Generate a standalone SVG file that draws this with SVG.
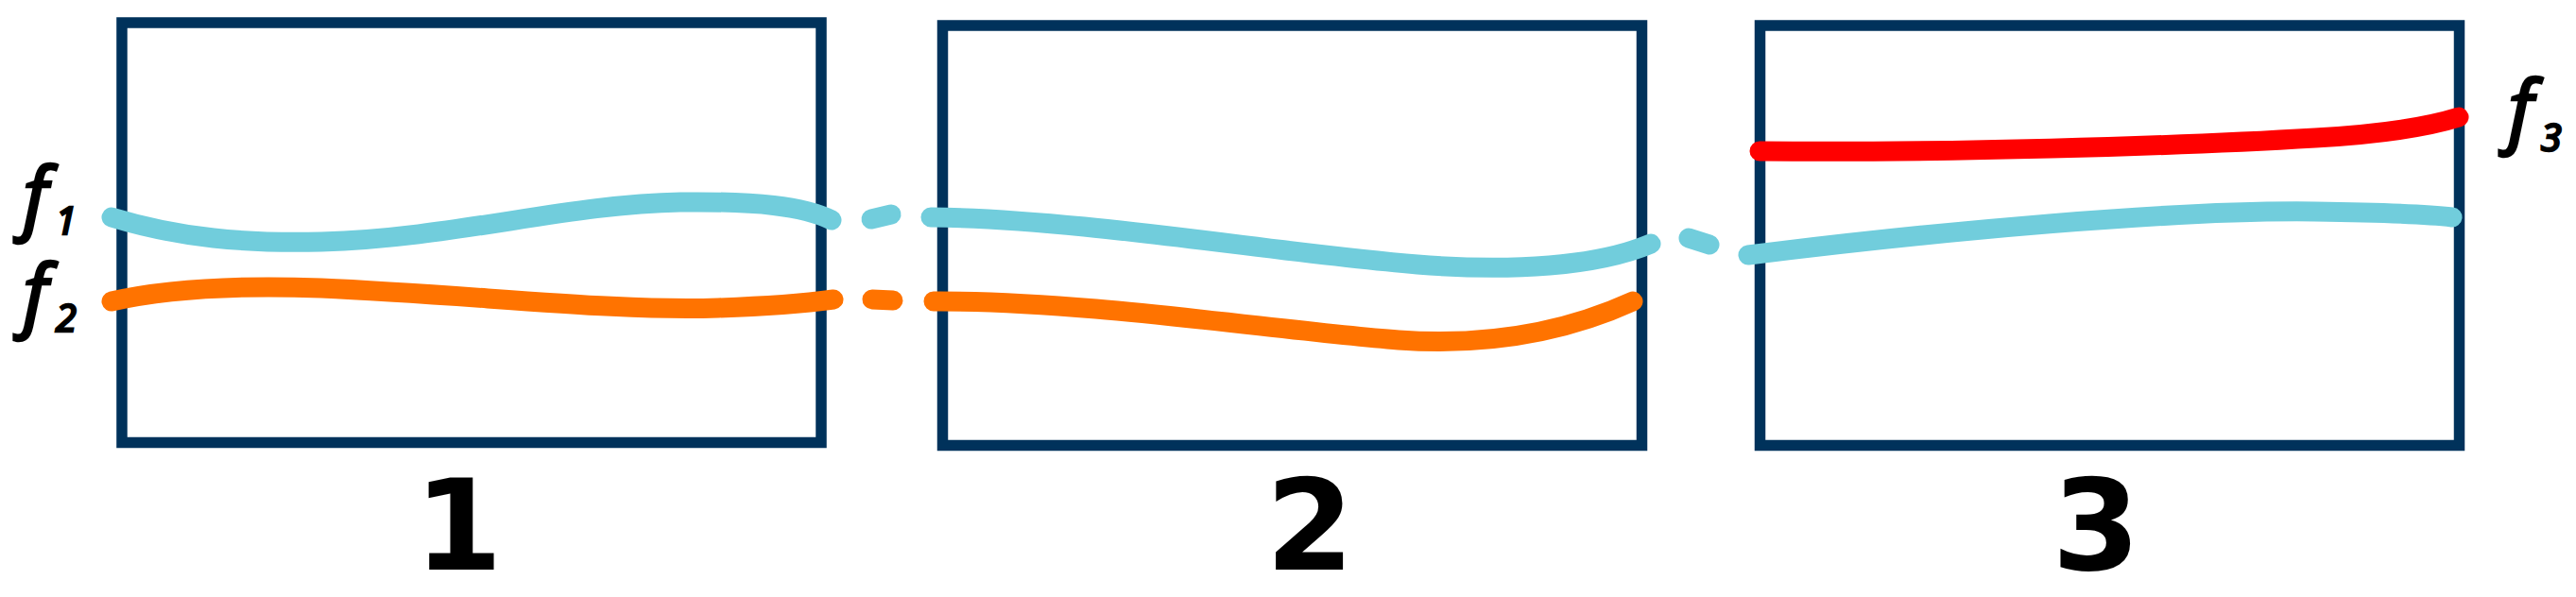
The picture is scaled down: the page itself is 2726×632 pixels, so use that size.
<svg xmlns="http://www.w3.org/2000/svg" width="2726" height="632" viewBox="0 0 2726 632">
<style>
.box{fill:none;stroke:#00325B;stroke-width:11.5;stroke-linejoin:miter}
.c{fill:none;stroke:#71CDDC;stroke-width:21;stroke-linecap:round}
.o{fill:none;stroke:#FF7300;stroke-width:21;stroke-linecap:round}
.r{fill:none;stroke:#FF0000;stroke-width:21;stroke-linecap:round}
.lbl{font-family:"Noto Sans","DejaVu Sans",sans-serif;font-style:italic;fill:#000;stroke:#000;stroke-width:2.5}
.num{font-family:"DejaVu Sans",sans-serif;font-weight:bold;font-size:134px;fill:#000;text-anchor:middle}
</style>
<rect width="2726" height="632" fill="#fff"/>
<g id="frame1">
<rect class="box" x="129" y="24" width="740" height="444.5"/>
<text class="num" x="485" y="603">1</text>
</g>
<g id="frame2">
<rect class="box" x="997.5" y="27" width="740" height="444.5"/>
<text class="num" x="1386" y="603">2</text>
</g>
<g id="frame3">
<rect class="box" x="1862.5" y="27" width="740" height="444.5"/>
<text class="num" x="2218" y="603">3</text>
</g>
<g id="connectors">
<path class="c" d="M118,230 C190,252 260,258 340,256 C480,252 600,216 720,214 C800,213 850,218 880,233"/>
<path class="c" d="M922,232 L943,227"/>
<path class="c" d="M985,230 C1150,232 1350,268 1500,280 C1600,288 1690,282 1747,258"/>
<path class="c" d="M1787,252 L1809,259"/>
<path class="c" d="M1850,270 C2050,245 2300,222 2450,224 C2520,225 2570,227 2595,230"/>
<path class="o" d="M118,319 C180,305 260,302 340,305 C500,312 650,330 760,326 C820,324 860,320 882,317"/>
<path class="o" d="M923,317 L945,318"/>
<path class="o" d="M988,319 C1150,318 1350,350 1480,360 C1580,367 1660,350 1728,319"/>
<path class="r" d="M1862,160 C2050,162 2300,155 2450,146 C2520,142 2570,134 2602,124"/>
</g>
<g id="labels">
<text class="lbl" x="24" y="238" font-size="84">f<tspan font-size="40" dy="10" dx="8">1</tspan></text>
<text class="lbl" x="24" y="341" font-size="84">f<tspan font-size="40" dy="10" dx="8">2</tspan></text>
<text class="lbl" x="2654" y="146" font-size="84">f<tspan font-size="40" dy="14" dx="8">3</tspan></text>
</g>
</svg>
